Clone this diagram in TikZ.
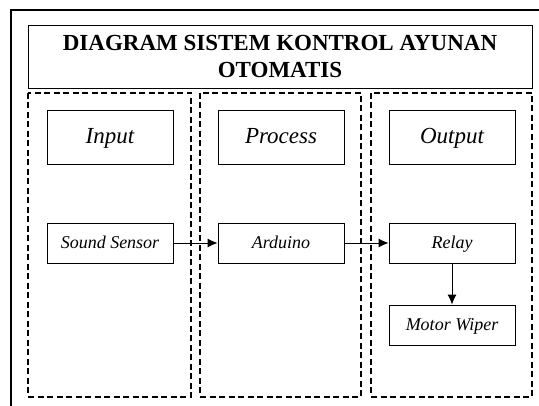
\documentclass[tikz,border=0pt]{standalone}
\usepackage{fontspec}
\setmainfont{Liberation Serif}
\usetikzlibrary{arrows.meta}
\begin{document}
\begin{tikzpicture}[x=1pt, y=-1pt,
    judul/.style={rectangle, draw=black, line width=0.9pt, minimum width=504pt, minimum height=63pt, align=center, font=\fontsize{23}{28}\selectfont\bfseries},
    kolom/.style={draw=black, line width=1.5pt, dash pattern=on 6pt off 3.5pt},
    kepala/.style={rectangle, draw=black, line width=0.8pt, minimum width=126pt, minimum height=54pt, text height=16pt, text depth=3pt, font=\fontsize{23}{25}\selectfont\itshape},
    blok/.style={rectangle, draw=black, line width=0.8pt, minimum width=126pt, minimum height=40pt, text height=12.5pt, text depth=2pt, font=\fontsize{18}{20}\selectfont\itshape},
    panah/.style={-{Latex[length=10pt,width=9pt]}, line width=0.9pt}]
    \useasboundingbox (0,0) rectangle (539,406);
    % bingkai luar
    \draw[line width=1.5pt] (11,406) -- (11,10) -- (539,10);

    \node[judul, name=judul] at (280,56.5) {DIAGRAM SISTEM KONTROL AYUNAN\\OTOMATIS};

    % kolom putus-putus
    \draw[kolom] (28,93) rectangle (191,397);
    \draw[kolom] (200,93) rectangle (361,397);
    \draw[kolom] (371,93) rectangle (532,397);

    \node[kepala, name=input] at (110,137) {Input};
    \node[kepala, name=process] at (281,137) {Process};
    \node[kepala, name=output] at (452,137) {Output};

    \node[blok, name=sensor] at (110,243) {Sound Sensor};
    \node[blok, name=arduino] at (281,243) {Arduino};
    \node[blok, name=relay] at (452,243) {Relay};
    \node[blok, name=motor] at (452,325) {Motor Wiper};

    \draw[panah] (sensor) -- (arduino);
    \draw[panah] (arduino) -- (relay);
    \draw[panah] (relay) -- (motor);
\end{tikzpicture}
\end{document}
